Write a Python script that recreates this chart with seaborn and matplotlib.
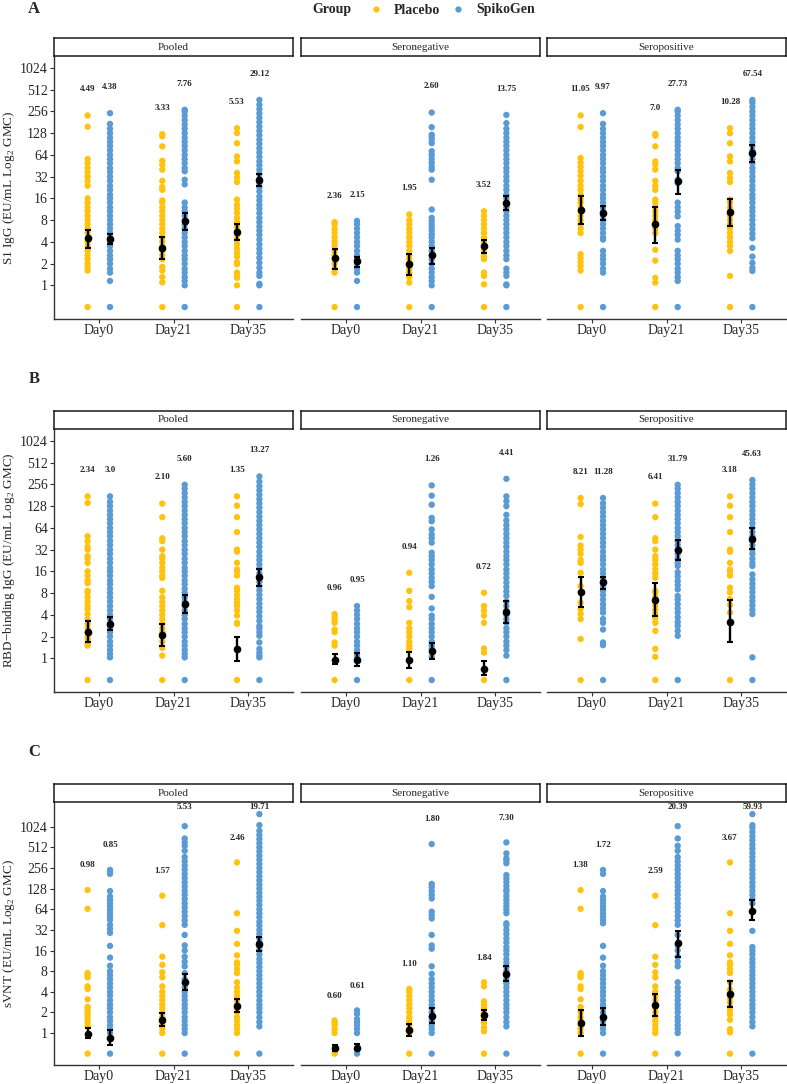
import numpy as np
import pandas as pd
import matplotlib
matplotlib.use("Agg")
import matplotlib.pyplot as plt
from matplotlib.lines import Line2D
import seaborn as sns

# === categories ===
days = ["Day0", "Day21", "Day35"]
groups = ["Placebo", "SpikoGen"]
cohorts = ["Pooled", "Seronegative", "Seropositive"]
colors = {"Placebo": "#FFC20E", "SpikoGen": "#5B9BD5"}

# === S1 IgG (panel A): one list per day ===
s1_pooled_placebo = [
    [0.5, 1.6, 1.75, 2.0, 2.3, 2.6, 3.0, 3.5, 4.0, 5.3, 6.1, 7.0, 8.0, 9.2, 10.6, 12, 14, 16, 24, 28, 32, 37, 42, 49, 56, 157, 225],
    [0.5, 1.1, 1.3, 1.6, 1.8, 2.3, 2.6, 3.0, 3.5, 4.0, 4.6, 5.3, 6.1, 7.0, 8.0, 9.2, 10.6, 12, 14, 15, 21, 23, 28, 40, 47, 53, 84, 116, 124],
    [0.5, 1.0, 1.27, 1.35, 1.5, 1.95, 2.1, 2.5, 2.8, 3.2, 3.7, 4.3, 5.0, 5.7, 6.5, 7.5, 8.6, 10, 11.5, 13, 15.4, 27, 31, 36, 52, 61, 93, 128, 150],
]
s1_pooled_spikogen = [
    [0.5, 1.15, 1.5, 1.7, 2.0, 2.3, 2.6, 3.0, 3.5, 4.0, 4.6, 5.3, 6.1, 7.0, 8.0, 9.2, 10.6, 12, 14, 16, 18, 21, 24, 28, 32, 37, 42, 49, 56, 64, 74, 85, 97, 111, 128, 147, 172, 242],
    [0.5, 1.0, 1.15, 1.3, 1.5, 1.7, 2.0, 2.3, 2.6, 3.0, 3.5, 4.0, 4.6, 5.3, 6.1, 7.0, 8.0, 9.2, 10.6, 12, 14, 25, 29, 38, 42, 49, 56, 64, 74, 85, 97, 111, 128, 147, 169, 194, 223, 256, 270],
    [0.5, 1.0, 1.05, 1.35, 1.5, 1.75, 2.05, 2.4, 2.8, 3.2, 3.7, 4.3, 5.0, 5.7, 6.5, 7.5, 8.6, 10, 11.5, 13, 15, 17, 20, 23, 26, 30, 35, 40, 46, 52, 60, 69, 79, 91, 104, 120, 138, 158, 182, 209, 240, 276, 317, 370],
]
s1_seroneg_placebo = [
    [0.5, 1.5, 1.7, 2.0, 2.3, 2.6, 3.0, 3.5, 4.0, 4.6, 5.3, 6.1, 7.0, 7.5],
    [0.5, 1.09, 1.3, 1.5, 1.7, 2.0, 2.3, 2.6, 3.0, 3.5, 4.0, 4.6, 5.3, 6.1, 7.0, 8.0, 9.6],
    [0.5, 1.03, 1.35, 1.5, 2.3, 2.5, 3.1, 3.5, 4.0, 4.6, 5.3, 6.1, 7.0, 8.0, 9.2, 10.6],
]
s1_seroneg_spikogen = [
    [0.5, 1.15, 1.5, 1.7, 2.0, 2.3, 2.6, 3.0, 3.5, 4.0, 4.6, 5.3, 6.1, 7.0, 7.8],
    [0.5, 1.0, 1.15, 1.3, 1.5, 1.7, 2.0, 2.3, 2.6, 3.0, 3.5, 4.0, 4.6, 5.1, 5.7, 6.3, 7.0, 7.8, 8.6, 11.2, 29, 40, 44, 50, 56, 64, 72, 93, 105, 115, 122, 155, 247],
    [0.5, 1.0, 1.03, 1.35, 1.5, 1.7, 2.3, 2.6, 3.0, 3.5, 4.0, 4.6, 5.3, 6.1, 7.0, 8.0, 9.2, 10.6, 12, 14, 16, 18, 21, 24, 28, 32, 37, 42, 49, 56, 64, 74, 85, 97, 111, 128, 147, 176, 229],
]
s1_seropos_placebo = [
    [0.5, 1.6, 1.85, 2.1, 2.4, 2.7, 5.3, 6.1, 7.0, 8.0, 9.2, 10.6, 12, 14, 15.5, 18, 21, 24, 28, 33, 38, 44, 50, 58, 156, 225],
    [0.5, 1.09, 1.27, 2.2, 3.1, 5.3, 6.1, 7.0, 8.0, 9.2, 10.6, 12, 14, 15.4, 21, 24, 28, 40, 47, 52, 84, 118, 125],
    [0.5, 1.35, 3.0, 3.5, 4.0, 4.6, 5.3, 6.1, 7.0, 8.0, 9.2, 10.6, 12, 14, 15.4, 27, 31, 36, 52, 61, 93, 128, 150],
]
s1_seropos_spikogen = [
    [0.5, 1.5, 1.7, 2.0, 2.3, 2.6, 3.0, 4.3, 4.6, 5.3, 6.1, 7.0, 8.0, 9.2, 10.6, 12, 14, 16, 18, 21, 24, 28, 32, 37, 42, 49, 56, 64, 74, 85, 97, 111, 128, 147, 172, 242],
    [0.5, 1.15, 1.3, 1.5, 1.7, 2.0, 2.3, 2.6, 3.0, 4.3, 5.0, 5.7, 6.6, 9.0, 10.5, 12, 14, 26, 29, 38, 42, 49, 56, 64, 74, 85, 97, 111, 128, 147, 169, 194, 223, 256, 270],
    [0.5, 1.58, 1.75, 2.05, 2.5, 3.3, 4.5, 5.2, 6.0, 6.9, 8.0, 9.2, 10.6, 12, 14, 16, 18, 21, 24, 28, 32, 37, 42, 49, 56, 64, 74, 85, 97, 111, 128, 147, 169, 194, 223, 256, 294, 338, 370],
]
# GMC labels and 95% CI, rows = cohorts, columns = days
s1_gmc_placebo = [["4.49", "3.33", "5.53"], ["2.36", "1.95", "3.52"], ["11.05", "7.0", "10.28"]]
s1_gmc_spikogen = [["4.38", "7.76", "29.12"], ["2.15", "2.60", "13.75"], ["9.97", "27.73", "67.54"]]
s1_lo_placebo = [[3.3, 2.3, 4.3], [1.7, 1.4, 2.8], [7.0, 3.9, 6.6]]
s1_hi_placebo = [[5.9, 4.65, 7.0], [3.2, 2.7, 4.3], [17, 12, 15.7]]
s1_lo_spikogen = [[3.7, 5.8, 24], [1.8, 2.0, 11], [8.0, 18.4, 51]]
s1_hi_spikogen = [[5.2, 10.1, 35], [2.5, 3.3, 17], [12.5, 40, 87]]

# === RBD-binding IgG (panel B) ===
rbd_pooled_placebo = [
    [0.5, 1.5, 1.6, 1.8, 2.0, 2.3, 2.6, 3.0, 3.5, 4.1, 4.8, 5.3, 6.1, 7.0, 8.0, 8.6, 11, 12, 14, 16, 21, 24, 26, 32, 35, 42, 49, 142, 175],
    [0.5, 1.09, 1.4, 1.7, 2.0, 2.3, 2.6, 3.0, 3.5, 4.0, 4.6, 5.3, 6.1, 7.0, 8.6, 13, 14, 16, 18, 21, 24, 26, 32, 42, 46, 90, 139],
    [0.5, 3.0, 3.1, 3.9, 4.6, 5.3, 5.9, 6.6, 7.5, 8.6, 9.5, 14, 16, 17, 21, 30, 32, 56, 90, 130, 175],
]
rbd_pooled_spikogen = [
    [0.5, 1.03, 1.15, 1.3, 1.5, 1.7, 2.0, 2.3, 2.6, 3.0, 3.5, 4.0, 4.6, 5.3, 6.1, 7.0, 8.0, 9.2, 10.6, 12, 14, 16, 18, 21, 24, 28, 32, 37, 42, 49, 56, 64, 74, 85, 97, 111, 128, 147, 175],
    [0.5, 1.03, 1.15, 1.3, 1.5, 1.7, 2.0, 2.3, 2.6, 3.0, 3.5, 4.0, 4.6, 5.3, 6.1, 7.0, 8.0, 9.2, 10.6, 12, 14, 16, 18, 21, 24, 28, 32, 37, 42, 49, 56, 64, 74, 85, 97, 111, 128, 147, 169, 194, 223, 253],
    [0.5, 1.03, 1.1, 1.2, 1.35, 1.66, 2.05, 2.3, 2.6, 2.8, 3.3, 3.8, 4.4, 5.0, 5.7, 6.6, 7.6, 8.7, 10, 11.5, 13, 15, 17.5, 20, 23, 26, 30, 35, 40, 46, 53, 61, 70, 80, 92, 106, 122, 140, 160, 184, 212, 243, 280, 330],
]
rbd_seroneg_placebo = [
    [0.5, 1.5, 1.66, 2.3, 2.5, 3.1, 3.3, 3.7, 4.1],
    [0.5, 1.35, 1.5, 1.7, 2.0, 2.3, 2.6, 3.1, 5.1, 6.2, 8.6, 15.3],
    [0.5, 1.2, 1.37, 3.1, 3.9, 4.6, 5.3, 8.1],
]
rbd_seroneg_spikogen = [
    [0.5, 1.03, 1.15, 1.3, 1.5, 1.7, 2.0, 2.3, 2.6, 3.0, 3.5, 4.0, 4.6, 5.3],
    [0.5, 1.05, 1.35, 1.5, 1.7, 2.0, 2.3, 2.6, 3.0, 3.5, 3.9, 4.9, 7.1, 10, 11.5, 13, 15, 17, 20, 23, 26, 29, 40, 46, 52, 61, 79, 88, 134, 179, 248],
    [0.5, 1.09, 1.3, 1.5, 1.7, 2.0, 2.3, 2.6, 3.1, 3.5, 4.0, 4.6, 5.3, 6.1, 7.3, 8.4, 9.7, 11.2, 13, 15, 17, 20, 23, 26, 30, 35, 40, 46, 53, 61, 70, 81, 97, 128, 150, 175, 306],
]
rbd_seropos_placebo = [
    [0.5, 1.85, 3.5, 4.1, 4.8, 5.9, 8.1, 10, 15.3, 21, 23, 28, 32, 36.5, 48, 137, 166],
    [0.5, 1.05, 1.35, 2.4, 3.1, 3.6, 4.1, 4.7, 5.4, 6.2, 7.1, 8.2, 8.6, 13, 15, 17, 20, 23, 26, 32, 42, 46, 90, 139],
    [0.5, 4.3, 5.5, 6.6, 8.2, 9.5, 14, 16, 17, 21, 30, 32, 56, 90, 130, 175],
]
rbd_seropos_spikogen = [
    [0.5, 1.52, 1.66, 2.5, 3.1, 3.5, 4.3, 4.9, 5.6, 6.5, 7.5, 8.6, 9.9, 11.4, 13, 15, 17, 20, 23, 26, 30, 35, 40, 46, 53, 61, 70, 80, 92, 106, 122, 140, 166],
    [0.5, 2.05, 2.4, 2.8, 3.2, 3.7, 4.3, 4.9, 5.6, 6.5, 7.3, 9.0, 10.3, 11.8, 13.6, 15.6, 19, 21, 24, 28, 32, 37, 42, 49, 56, 64, 74, 85, 97, 111, 128, 147, 169, 194, 223, 253],
    [0.5, 1.03, 4.1, 4.7, 5.4, 6.2, 7.1, 8.2, 9.4, 10.8, 12.4, 14.5, 19, 21, 24, 28, 32, 37, 42, 49, 56, 64, 74, 85, 97, 111, 128, 147, 169, 194, 223, 256, 295],
]
rbd_gmc_placebo = [["2.34", "2.10", "1.35"], ["0.96", "0.94", "0.72"], ["8.21", "6.41", "3.18"]]
rbd_gmc_spikogen = [["3.0", "5.60", "13.27"], ["0.95", "1.26", "4.41"], ["11.28", "31.79", "45.63"]]
rbd_lo_placebo = [[1.66, 1.5, 0.93], [0.83, 0.73, 0.58], [5.1, 3.8, 1.66]]
rbd_hi_placebo = [[3.3, 3.0, 1.95], [1.15, 1.23, 0.93], [13.5, 10.9, 6.4]]
rbd_lo_spikogen = [[2.5, 4.2, 10], [0.78, 0.98, 3.1], [9.1, 23, 33]]
rbd_hi_spikogen = [[3.7, 7.5, 17.4], [1.2, 1.63, 6.2], [13.5, 44, 64]]

# === sVNT (panel C) ===
svnt_pooled_placebo = [
    [0.5, 1.25, 1.4, 1.6, 1.8, 2.0, 2.2, 2.4, 3.1, 4.4, 4.8, 6.5, 7.0, 7.5, 65, 122],
    [0.5, 1.0, 1.15, 1.3, 1.5, 1.7, 2.0, 2.3, 2.6, 3.0, 3.5, 4.0, 4.8, 6.5, 7.7, 9.9, 13, 37.5, 101],
    [0.5, 1.0, 1.15, 1.3, 1.5, 1.7, 2.0, 2.3, 2.6, 3.0, 3.5, 4.0, 4.6, 5.5, 7.5, 8.6, 9.9, 10.7, 13.6, 20, 31, 56, 309],
]
svnt_pooled_spikogen = [
    [0.5, 1.0, 1.15, 1.3, 1.5, 1.7, 2.0, 2.3, 2.6, 3.0, 3.5, 4.0, 4.6, 5.3, 6.1, 7.0, 8.0, 9.6, 12.6, 18.7, 29, 33, 38, 45, 50, 56, 63, 70, 78, 88, 98, 118, 210, 225, 240],
    [0.5, 1.0, 1.15, 1.3, 1.5, 1.7, 2.0, 2.3, 2.6, 3.0, 3.5, 4.0, 4.6, 5.3, 6.1, 7.5, 9.4, 11, 13, 16, 19, 27, 38, 44, 51, 59, 68, 78, 90, 104, 119, 137, 158, 182, 210, 242, 279, 321, 370, 457, 540, 610, 690, 1045],
    [0.5, 1.25, 1.45, 1.7, 2.0, 2.3, 2.6, 3.0, 3.5, 4.0, 4.6, 5.3, 6.1, 7.0, 8.0, 9.2, 10.6, 12, 14, 16, 18, 21, 24, 28, 32, 37, 42, 49, 56, 64, 74, 85, 97, 111, 128, 147, 169, 194, 223, 256, 294, 338, 388, 446, 512, 588, 676, 776, 891, 1080, 1564],
]
svnt_seroneg_placebo = [
    [0.5, 1.0, 1.15, 1.3, 1.42, 1.53],
    [0.5, 1.0, 1.15, 1.3, 1.5, 1.7, 2.0, 2.3, 2.6, 3.0, 3.5, 4.0, 4.4],
    [0.5, 1.06, 1.2, 1.4, 1.6, 1.8, 2.0, 2.3, 2.6, 2.9, 4.8, 5.5],
]
svnt_seroneg_spikogen = [
    [0.5, 1.0, 1.15, 1.3, 1.45, 1.6, 1.9, 2.14],
    [0.5, 1.0, 1.15, 1.3, 1.5, 1.7, 2.0, 2.3, 2.6, 3.0, 3.5, 4.0, 4.6, 5.3, 6.1, 7.3, 9.4, 17, 19, 27, 47, 52, 59, 92, 104, 118, 135, 150, 572],
    [0.5, 1.25, 1.45, 1.7, 2.0, 2.3, 2.6, 3.0, 3.5, 4.0, 4.6, 5.3, 6.1, 7.0, 8.0, 9.2, 10.6, 12, 14, 16, 18, 21, 24, 28, 32, 37, 40, 56, 63, 70, 78, 88, 100, 115, 123, 140, 160, 180, 202, 300, 330, 354, 419, 605],
]
svnt_seropos_placebo = [
    [0.5, 1.0, 1.15, 1.3, 1.5, 1.7, 2.0, 2.4, 3.1, 4.4, 4.8, 6.5, 7.0, 7.5, 65, 122],
    [0.5, 1.0, 1.15, 1.3, 1.5, 1.7, 2.0, 2.3, 2.6, 3.0, 3.5, 4.0, 4.8, 6.5, 7.7, 9.9, 13, 37.5, 101],
    [0.5, 1.02, 1.14, 1.56, 1.85, 2.1, 2.4, 2.8, 3.2, 3.7, 4.3, 5.5, 7.5, 8.6, 9.9, 10.7, 13.6, 20, 31, 56, 309],
]
svnt_seropos_spikogen = [
    [0.5, 1.0, 1.15, 1.3, 1.5, 1.7, 2.0, 2.3, 2.6, 3.0, 3.5, 4.0, 4.6, 5.3, 6.1, 7.0, 8.0, 9.6, 12.6, 18.7, 40, 45, 50, 56, 63, 70, 78, 88, 98, 118, 210, 240],
    [0.5, 1.0, 1.15, 1.3, 1.5, 1.7, 2.0, 2.3, 2.6, 3.0, 3.5, 4.0, 4.6, 5.5, 9.4, 11, 13, 16, 19, 27, 38, 44, 51, 59, 68, 78, 90, 104, 119, 137, 158, 182, 210, 242, 279, 321, 370, 457, 540, 690, 1045],
    [0.5, 1.25, 1.45, 1.7, 2.0, 2.3, 2.6, 3.0, 3.5, 4.0, 4.6, 5.3, 6.1, 7.0, 8.0, 9.2, 10.6, 12, 14, 16, 18, 31, 78, 90, 104, 119, 137, 158, 182, 210, 242, 279, 321, 370, 426, 490, 563, 648, 745, 857, 985, 1080, 1564],
]
svnt_gmc_placebo = [["0.98", "1.57", "2.46"], ["0.60", "1.10", "1.84"], ["1.38", "2.59", "3.67"]]
svnt_gmc_spikogen = [["0.85", "5.53", "19.71"], ["0.61", "1.80", "7.30"], ["1.72", "20.39", "59.93"]]
svnt_lo_placebo = [[0.85, 1.28, 2.0], [0.54, 0.9, 1.56], [0.9, 1.8, 2.4]]
svnt_hi_placebo = [[1.18, 1.96, 3.1], [0.68, 1.35, 2.2], [2.2, 3.7, 5.8]]
svnt_lo_spikogen = [[0.68, 4.3, 15.5], [0.56, 1.4, 5.7], [1.32, 13, 44]]
svnt_hi_spikogen = [[1.09, 7.3, 25], [0.69, 2.3, 9.6], [2.3, 31, 86]]

# === assemble ===
rows_spec = [
    dict(letter="A", ylabel="S1 IgG (EU/mL Log$_2$ GMC)", ytop=10.55,
         placebo=[s1_pooled_placebo, s1_seroneg_placebo, s1_seropos_placebo],
         spikogen=[s1_pooled_spikogen, s1_seroneg_spikogen, s1_seropos_spikogen],
         gmc=[s1_gmc_placebo, s1_gmc_spikogen], lo=[s1_lo_placebo, s1_lo_spikogen],
         hi=[s1_hi_placebo, s1_hi_spikogen]),
    dict(letter="B", ylabel="RBD\u2212binding IgG (EU/mL Log$_2$ GMC)", ytop=10.55,
         placebo=[rbd_pooled_placebo, rbd_seroneg_placebo, rbd_seropos_placebo],
         spikogen=[rbd_pooled_spikogen, rbd_seroneg_spikogen, rbd_seropos_spikogen],
         gmc=[rbd_gmc_placebo, rbd_gmc_spikogen], lo=[rbd_lo_placebo, rbd_lo_spikogen],
         hi=[rbd_hi_placebo, rbd_hi_spikogen]),
    dict(letter="C", ylabel="sVNT (EU/mL Log$_2$ GMC)", ytop=11.2,
         placebo=[svnt_pooled_placebo, svnt_seroneg_placebo, svnt_seropos_placebo],
         spikogen=[svnt_pooled_spikogen, svnt_seroneg_spikogen, svnt_seropos_spikogen],
         gmc=[svnt_gmc_placebo, svnt_gmc_spikogen], lo=[svnt_lo_placebo, svnt_lo_spikogen],
         hi=[svnt_hi_placebo, svnt_hi_spikogen]),
]

offset = {"Placebo": -0.15, "SpikoGen": 0.15}

sns.set_style("white")
plt.rcParams["font.family"] = ["Liberation Serif", "DejaVu Serif"]
plt.rcParams["mathtext.fontset"] = "custom"
plt.rcParams["mathtext.rm"] = "Liberation Serif"

W, H = 787, 1084
fig = plt.figure(figsize=(W / 100, H / 100), dpi=100)


def box(left, top, width, height):
    return [left / W, 1 - (top + height) / H, width / W, height / H]


panel_left = [54, 301, 547]
panel_w = 239
panel_top = [56, 429, 802]
panel_h = 263
strip_h = 18
letter_y = [9, 379, 752]
yticks = [2 ** k for k in range(0, 11)]

for r, spec in enumerate(rows_spec):
    fig.text(34 / W, 1 - letter_y[r] / H, spec["letter"], fontsize=12,
             fontweight="bold", ha="center", va="center")
    for c, cohort in enumerate(cohorts):
        # long table for this facet
        recs = []
        for g, lists in zip(groups, [spec["placebo"][c], spec["spikogen"][c]]):
            for d, vals in enumerate(lists):
                for v in vals:
                    recs.append((g, d, d + offset[g], v))
        df = pd.DataFrame(recs, columns=["group", "day", "xpos", "value"])

        ax = fig.add_axes(box(panel_left[c], panel_top[r], panel_w, panel_h))
        ax.set_yscale("log", base=2)
        sns.scatterplot(data=df, x="xpos", y="value", hue="group", hue_order=groups,
                        palette=colors, s=21, linewidth=0, alpha=1,
                        legend=False, ax=ax, zorder=2)

        for gi, g in enumerate(groups):
            for d in range(3):
                lab = spec["gmc"][gi][c][d]
                gm = float(lab)
                lo = spec["lo"][gi][c][d]
                hi = spec["hi"][gi][c][d]
                x = d + offset[g]
                ax.errorbar([x], [gm], yerr=[[gm - lo], [hi - gm]], fmt="o",
                            color="black", ms=4.5, elinewidth=1.7, capsize=2.3,
                            capthick=1.5, zorder=5)
                vmax = df.loc[(df.group == g) & (df.day == d), "value"].max()
                ly = 2 ** min(np.log2(vmax) + 1.2, 10.95)
                ax.text(x, ly, lab, ha="center", va="center", fontsize=6.5,
                        fontweight="bold", zorder=6)

        ax.set_xlim(-0.6, 2.6)
        ax.set_ylim(2 ** -1.55, 2 ** spec["ytop"])
        ax.set_xticks(range(3))
        ax.set_xticklabels(days)
        ax.set_xlabel("")
        ax.tick_params(axis="x", length=3, width=0.8, color="#333333",
                       labelsize=10, pad=0.5, bottom=True)
        for s in ["top", "right"]:
            ax.spines[s].set_visible(False)
        ax.spines["bottom"].set_color("#333333")
        ax.spines["bottom"].set_linewidth(1.0)
        ax.minorticks_off()
        if c == 0:
            ax.set_yticks(yticks)
            ax.set_yticklabels([str(t) for t in yticks])
            ax.tick_params(axis="y", length=3, width=0.8, color="#333333",
                           labelsize=10, pad=1.5, left=True)
            ax.spines["left"].set_color("#333333")
            ax.spines["left"].set_linewidth(1.0)
            ax.set_ylabel(spec["ylabel"], fontsize=9.5)
            ax.yaxis.set_label_coords(-0.153, 0.5)
        else:
            ax.set_yticks([])
            ax.spines["left"].set_visible(False)
            ax.set_ylabel("")

        # facet strip
        sa = fig.add_axes(box(panel_left[c], panel_top[r] - strip_h, panel_w, strip_h))
        sa.set_xticks([])
        sa.set_yticks([])
        sa.set_facecolor("white")
        for s in sa.spines.values():
            s.set_visible(True)
            s.set_color("#1a1a1a")
            s.set_linewidth(1.1)
        sa.text(0.5, 0.5, cohort, ha="center", va="center", fontsize=8,
                transform=sa.transAxes)

# legend at top
fig.text(332 / W, 1 - 10 / H, "Group", fontsize=10, fontweight="bold",
         ha="center", va="center")
handles = [Line2D([], [], ls="", marker="o", ms=3.5, color=colors[g]) for g in groups]
fig.legend(handles, groups, ncol=2, loc="center left",
           bbox_to_anchor=(362 / W, 1 - 10 / H), frameon=False, borderpad=0,
           handlelength=1.0, handletextpad=0.8, columnspacing=0.8,
           prop={"weight": "bold", "size": 10, "family": "Liberation Serif"})

fig.savefig("out.png", dpi=100)
